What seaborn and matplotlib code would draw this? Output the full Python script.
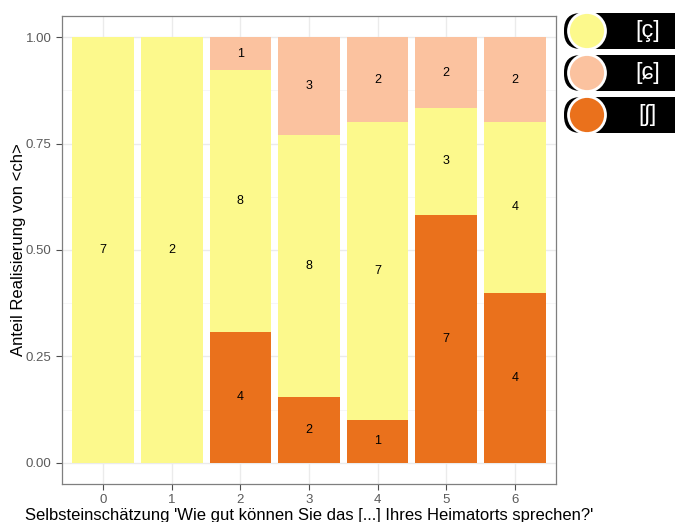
import pandas as pd
import numpy as np
import matplotlib
matplotlib.use("Agg")
import matplotlib.pyplot as plt
import seaborn as sns
from matplotlib.patches import FancyBboxPatch, Circle

sns.set_style("white")
plt.rcParams['font.family'] = ['Liberation Sans', 'DejaVu Sans']

# data: counts per self-rating and realisation
ratings = [0, 1, 2, 3, 4, 5, 6]
n_sh = [0, 0, 4, 2, 1, 7, 4]      # [ʃ]
n_c = [7, 2, 8, 8, 7, 3, 4]       # [ç]
n_alv = [0, 0, 1, 3, 2, 2, 2]     # [ɕ]
sounds = ['[ç]', '[ɕ]', '[ʃ]']
colors = {'[ç]': '#FCF98C', '[ɕ]': '#FBC29F', '[ʃ]': '#EA711C'}

rows = []
for r, a, b, c in zip(ratings, n_sh, n_c, n_alv):
    rows.append((r, '[ʃ]', a))
    rows.append((r, '[ç]', b))
    rows.append((r, '[ɕ]', c))
df = pd.DataFrame(rows, columns=['rating', 'sound', 'n'])

fig = plt.figure(figsize=(6.75, 5.22), dpi=100)
ax = fig.add_axes([0.0919, 0.0728, 0.7318, 0.8966])

sns.histplot(data=df, x='rating', hue='sound', weights='n', multiple='fill',
             discrete=True, shrink=0.9, hue_order=['[ɕ]', '[ç]', '[ʃ]'],
             palette=colors, alpha=1, linewidth=0, legend=False, ax=ax, zorder=2)

# counts in the middle of each segment
for r, a, b, c in zip(ratings, n_sh, n_c, n_alv):
    tot = a + b + c
    base = 0
    for v in (a, b, c):
        if v > 0:
            ax.text(r, (base + v / 2) / tot, str(v), ha='center', va='center',
                    fontsize=9, color='black', zorder=3)
        base += v

ax.set_xlim(-0.6, 6.6)
ax.set_ylim(-0.05, 1.05)
ax.set_xticks(ratings)
ax.set_yticks([0, 0.25, 0.5, 0.75, 1.0])
ax.set_yticklabels(['0.00', '0.25', '0.50', '0.75', '1.00'])
ax.set_yticks([0.125, 0.375, 0.625, 0.875], minor=True)
ax.grid(True, which='major', color='#EBEBEB', lw=1, zorder=0)
ax.grid(True, which='minor', axis='y', color='#F5F5F5', lw=0.6, zorder=0)
ax.set_axisbelow(True)
ax.tick_params(axis='both', which='major', colors='#4D4D4D', labelsize=9.5,
               length=4, width=0.8, left=True, bottom=True, labelcolor='#5A5A5A')
ax.tick_params(which='minor', length=0)
for s in ax.spines.values():
    s.set_color('#7F7F7F')
    s.set_linewidth(0.9)
ax.set_xlabel("Selbsteinschätzung 'Wie gut können Sie das [...] Ihres Heimatorts sprechen?'",
              fontsize=12, color='black', labelpad=1)
ax.set_ylabel('Anteil Realisierung von <ch>', fontsize=12, color='black')
ax.yaxis.set_label_coords(-0.072, 0.5)

# legend drawn as black pills with coloured circles (pixel units via inches)
for i, s in enumerate(sounds):
    yc = (522 - 31 - i * 42) / 100
    fig.patches.append(FancyBboxPatch((5.64, yc - 0.18), 1.4, 0.36,
                                      boxstyle='round,pad=0,rounding_size=0.17',
                                      transform=fig.dpi_scale_trans, facecolor='black',
                                      edgecolor='none'))
    fig.patches.append(Circle((5.87, yc), 0.185, transform=fig.dpi_scale_trans,
                              facecolor=colors[s], edgecolor='white', lw=2))
    fig.text(6.48 / 6.75, yc / 5.22, s, ha='center', va='center', color='white',
             fontsize=17)

fig.savefig('out.png', dpi=100)
